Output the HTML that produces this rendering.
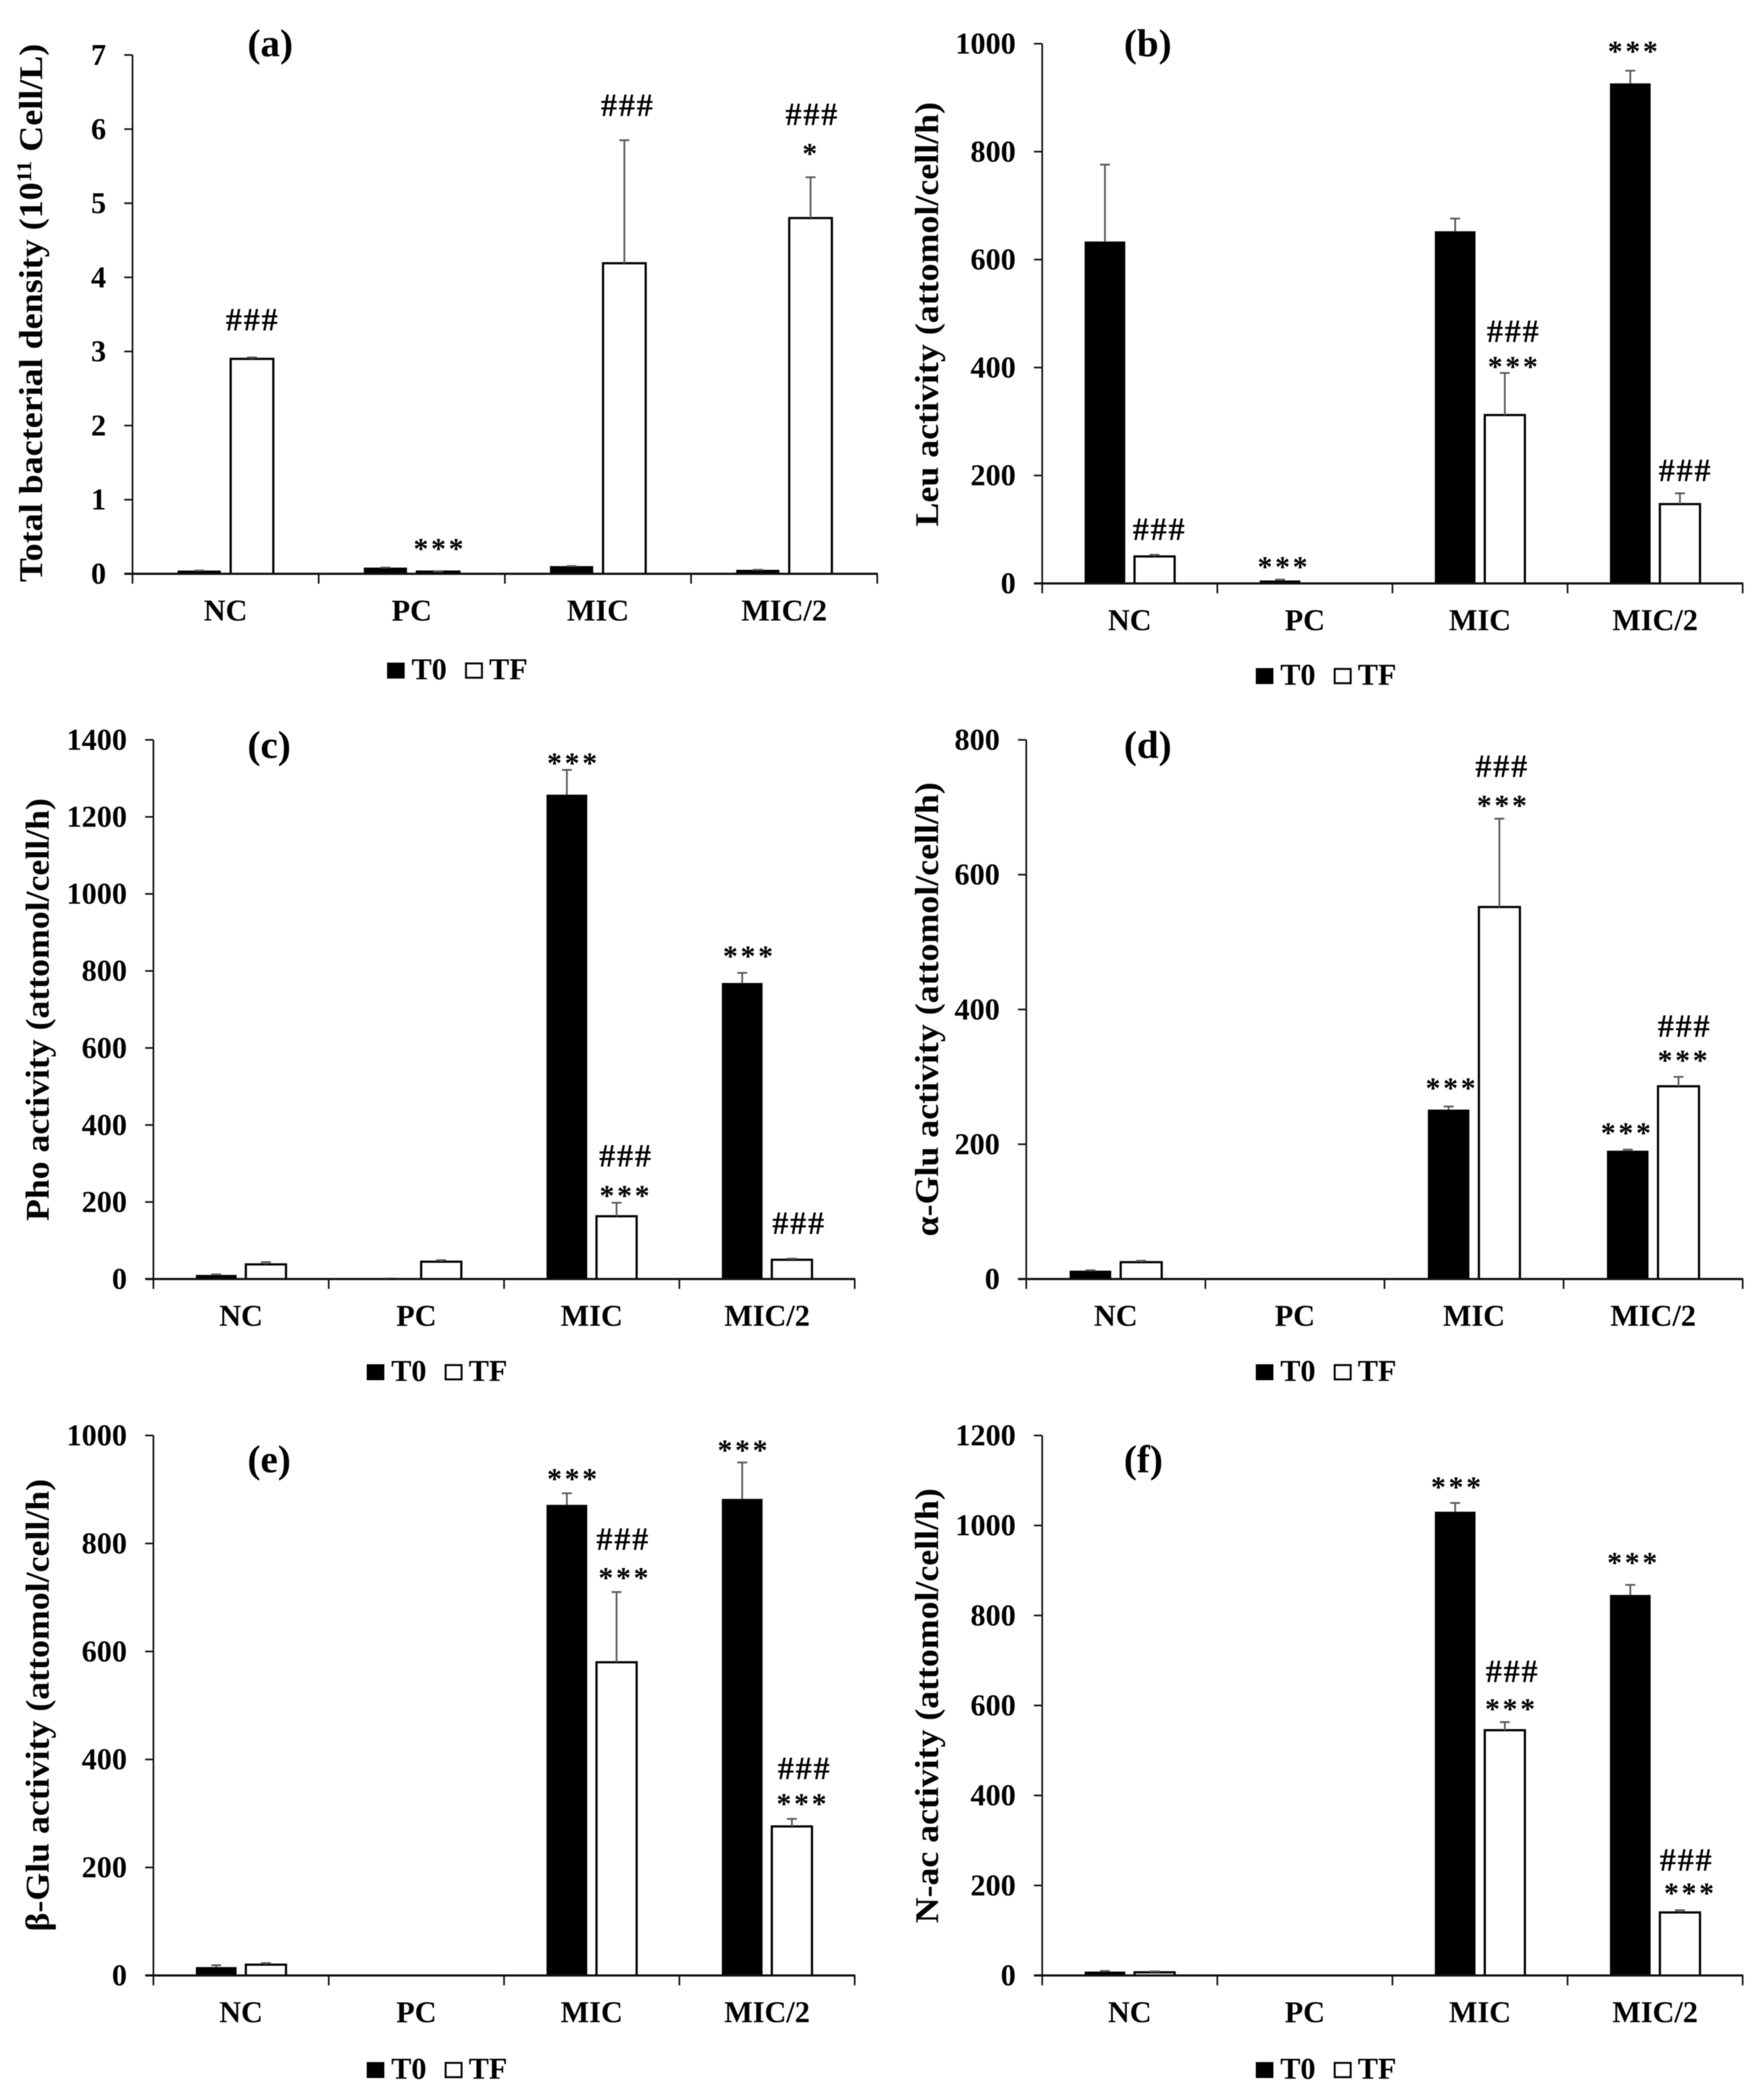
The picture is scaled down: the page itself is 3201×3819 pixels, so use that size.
<!DOCTYPE html>
<html lang="en">
<head>
<meta charset="utf-8">
<title>Bacterial density and enzyme activity panels</title>
<style>
  html, body { margin: 0; padding: 0; background: #fff; }
  #figure { display: block; width: 3201px; height: 3819px; background: #fff; filter: blur(0.8px); }
  text { font-family: "Liberation Serif", serif; fill: #000; }
</style>
</head>
<body>
<svg id="figure" xmlns="http://www.w3.org/2000/svg" width="3201" height="3819" viewBox="0 0 3201 3819"></svg>
<script>
const categories = ['NC', 'PC', 'MIC', 'MIC/2'];
const legendLabels = ['T0', 'TF'];

const panelATicks = [0, 1, 2, 3, 4, 5, 6, 7];
const panelAT0 = [0.04, 0.08, 0.10, 0.05];
const panelATF = [2.90, 0.03, 4.19, 4.80];
const panelAT0Err = [0.005, 0.005, 0.005, 0.005];
const panelATFErr = [0.02, 0.005, 1.66, 0.55];

const panelBTicks = [0, 200, 400, 600, 800, 1000];
const panelBT0 = [633, 5, 652, 926];
const panelBTF = [50, 0, 312, 147];
const panelBT0Err = [143, 2, 24, 24];
const panelBTFErr = [3, 0, 78, 20];

const panelCTicks = [0, 200, 400, 600, 800, 1000, 1200, 1400];
const panelCT0 = [10, 1, 1257, 768];
const panelCTF = [38, 45, 163, 50];
const panelCT0Err = [2, 0, 65, 27];
const panelCTFErr = [6, 4, 35, 3];

const panelDTicks = [0, 200, 400, 600, 800];
const panelDT0 = [12, 0, 251, 190];
const panelDTF = [25, 0, 552, 286];
const panelDT0Err = [1, 0, 5, 2];
const panelDTFErr = [2, 0, 131, 14];

const panelETicks = [0, 200, 400, 600, 800, 1000];
const panelET0 = [15, 0, 871, 882];
const panelETF = [20, 0, 580, 276];
const panelET0Err = [4, 0, 22, 68];
const panelETFErr = [3, 0, 130, 14];

const panelFTicks = [0, 200, 400, 600, 800, 1000, 1200];
const panelFT0 = [8, 0, 1030, 845];
const panelFTF = [7, 0, 545, 140];
const panelFT0Err = [2, 0, 20, 23];
const panelFTFErr = [2, 0, 18, 5];

const SVGNS = 'http://www.w3.org/2000/svg';
const root = document.getElementById('figure');

function make(parent, tag) {
  const el = document.createElementNS(SVGNS, tag);
  parent.appendChild(el);
  return el;
}
function setAll(el, props) {
  for (const k in props) el.setAttribute(k, props[k]);
  return el;
}
function label(parent, str, x, y, size, anchor, weight) {
  const t = make(parent, 'text');
  setAll(t, { x: x, y: y, 'font-size': size, 'text-anchor': anchor, 'font-weight': weight });
  t.textContent = str;
  return t;
}

function drawPanel(cfg) {
  const g = make(root, 'g');
  g.setAttribute('transform', 'translate(-1.5 -1.5)');
  
  

  const maxV = cfg.ticks[cfg.ticks.length - 1];
  const yScale = function (v) { return cfg.y0 - (v / maxV) * (cfg.y0 - cfg.yTop); };
  const catW = (cfg.xRight - cfg.xLeft) / categories.length;
  const barW = catW * 0.229;
  const barGap = catW * 0.0545;
  const xScale = function (cat, series) {
    const centre = cfg.xLeft + catW * (cat + 0.5);
    return series === 0 ? centre - barGap / 2 - barW : centre + barGap / 2;
  };
  const seriesValues = [cfg.t0, cfg.tf];
  const seriesErrors = [cfg.t0Err, cfg.tfErr];

  categories.forEach(function (cat, c) {
    [0, 1].forEach(function (s) {
      const v = seriesValues[s][c];
      const e = seriesErrors[s][c];
      const x = xScale(c, s);
      const top = yScale(v);
      const bar = make(g, 'rect');
      setAll(bar, { x: x, y: top, width: barW, height: Math.max(0, cfg.y0 - top),
        fill: s === 0 ? '#000' : '#fff', stroke: '#000', 'stroke-width': s === 0 ? 1 : 4 });
      
      
      if (v > 0 || e > 0) {
        const mid = x + barW / 2;
        const errTop = yScale(v + e);
        const err = make(g, 'path');
        setAll(err, { d: 'M' + mid + ' ' + top + 'V' + errTop + 'M' + (mid - 9) + ' ' + errTop + 'H' + (mid + 9),
          fill: 'none', stroke: '#5a5a5a', 'stroke-width': 3.2 });
        
        
      }
    });
  });

  const yAxis = make(g, 'line');
  setAll(yAxis, { x1: cfg.xLeft, x2: cfg.xLeft, y1: cfg.yTop, y2: cfg.y0 + 18, stroke: '#111', 'stroke-width': 3 });
  
  
  const xAxis = make(g, 'line');
  setAll(xAxis, { x1: cfg.xLeft - 15, x2: cfg.xRight + 1, y1: cfg.y0, y2: cfg.y0, stroke: '#111', 'stroke-width': 4 });
  
  

  cfg.ticks.forEach(function (t) {
    const y = yScale(t);
    const mark = make(g, 'line');
    setAll(mark, { x1: cfg.xLeft - 15, x2: cfg.xLeft, y1: y, y2: y, stroke: '#111', 'stroke-width': 3 });
    
    
    const tl = label(g, String(t), cfg.xLeft - 48, y + 18, 55, 'end', 'bold');
    
    
  });

  for (let i = 0; i <= categories.length; i++) {
    const x = cfg.xLeft + catW * i;
    const mark = make(g, 'line');
    setAll(mark, { x1: x, x2: x, y1: cfg.y0, y2: cfg.y0 + 18, stroke: '#111', 'stroke-width': 3 });
    
    
  }
  categories.forEach(function (cat, c) {
    const cl = label(g, cat, cfg.xLeft + catW * (c + 0.5), cfg.y0 + 85, 55, 'middle', 'bold');
    
    
  });

  const title = make(g, 'text');
  setAll(title, { transform: 'translate(' + (cfg.titleX - 2) + ' ' + cfg.titleBottom + ') rotate(-90)',
    'font-size': 60, 'font-weight': 'bold', 'text-anchor': 'start',
    textLength: cfg.titleLength, lengthAdjust: 'spacingAndGlyphs' });
  
  
  if (cfg.titleSup) {
    const a = make(title, 'tspan');
    a.textContent = cfg.titleText;
    const b = make(title, 'tspan');
    setAll(b, { dy: -20, 'font-size': 38 });
    b.textContent = cfg.titleSup;
    const d = make(title, 'tspan');
    setAll(d, { dy: 20 });
    d.textContent = cfg.titleAfter;
  } else {
    title.textContent = cfg.titleText;
  }

  const pl = label(g, cfg.letter, cfg.letterX, cfg.letterY, 71, 'middle', 'bold');
  
  

  const lg = make(g, 'g');
  
  
  const swatchA = make(lg, 'rect');
  setAll(swatchA, { x: cfg.legendX, y: cfg.legendY - 30, width: 31, height: 28, fill: '#000', stroke: '#000', 'stroke-width': 1 });
  
  
  const textA = label(lg, legendLabels[0], cfg.legendX + 44, cfg.legendY, 55, 'start', 'bold');
  
  
  const swatchB = make(lg, 'rect');
  setAll(swatchB, { x: cfg.legendX + 143, y: cfg.legendY - 29, width: 29, height: 26, fill: '#fff', stroke: '#000', 'stroke-width': 3.5 });
  
  
  const textB = label(lg, legendLabels[1], cfg.legendX + 185, cfg.legendY, 55, 'start', 'bold');
  
  

  return function note(cat, series, text, dx, gap) {
    const v = seriesValues[series][cat] + seriesErrors[series][cat];
    const cx = xScale(cat, series) + barW / 2 + dx;
    const centre = yScale(v) - gap;
    const isStar = text.charAt(0) === '*';
    const n = label(g, text, cx + (isStar ? 1 : 1), centre + (isStar ? 25 : 20), isStar ? 54 : 59, 'middle', 'bold');
    n.setAttribute('letter-spacing', isStar ? 5 : 3);
    
    
  };
}

const noteA = drawPanel({ id: 'a', letter: '(a)', ticks: panelATicks, t0: panelAT0, tf: panelATF, t0Err: panelAT0Err, tfErr: panelATFErr,
  xLeft: 242.5, xRight: 1597, yTop: 101.5, y0: 1045,
  titleText: 'Total bacterial density (10', titleSup: '11', titleAfter: ' Cell/L)', titleX: 80, titleBottom: 1060, titleLength: 979,
  letterX: 493, letterY: 104, legendX: 706, legendY: 1237 });
noteA(0, 1, '###', 0, 69);
noteA(1, 1, '***', 2, 48);
noteA(2, 1, '###', 5, 64);
noteA(3, 1, '*', 0, 50);
noteA(3, 1, '###', 2, 115);

const noteB = drawPanel({ id: 'b', letter: '(b)', ticks: panelBTicks, t0: panelBT0, tf: panelBTF, t0Err: panelBT0Err, tfErr: panelBTFErr,
  xLeft: 1897, xRight: 3171, yTop: 81, y0: 1062.5,
  titleText: 'Leu activity (attomol/cell/h)', titleX: 1709.5, titleBottom: 959, titleLength: 772,
  letterX: 2089, letterY: 104, legendX: 2286, legendY: 1247 });
noteB(0, 1, '###', 8, 47);
noteB(1, 0, '***', 6, 30);
noteB(2, 1, '***', 16, 18);
noteB(2, 1, '###', 15, 76);
noteB(3, 0, '***', 6, 42);
noteB(3, 1, '###', 9, 42);

const noteC = drawPanel({ id: 'c', letter: '(c)', ticks: panelCTicks, t0: panelCT0, tf: panelCTF, t0Err: panelCT0Err, tfErr: panelCTFErr,
  xLeft: 280.5, xRight: 1556, yTop: 1347, y0: 2327.5,
  titleText: 'Pho activity (attomol/cell/h)', titleX: 92, titleBottom: 2222, titleLength: 769,
  letterX: 491, letterY: 1380, legendX: 669, legendY: 2513 });
noteC(2, 0, '***', 11, 19);
noteC(2, 1, '***', 16, 20);
noteC(2, 1, '###', 16, 86);
noteC(3, 0, '***', 12, 37);
noteC(3, 1, '###', 12, 65);

const noteD = drawPanel({ id: 'd', letter: '(d)', ticks: panelDTicks, t0: panelDT0, tf: panelDTF, t0Err: panelDT0Err, tfErr: panelDTFErr,
  xLeft: 1868, xRight: 3171, yTop: 1347, y0: 2327.5,
  titleText: '\u03B1-Glu activity (attomol/cell/h)', titleX: 1709.5, titleBottom: 2250, titleLength: 826,
  letterX: 2089, letterY: 1380, legendX: 2286, legendY: 2513 });
noteD(2, 0, '***', 5, 40);
noteD(2, 1, '***', 6, 31);
noteD(2, 1, '###', 4, 96);
noteD(3, 0, '***', -2, 37);
noteD(3, 1, '***', 9, 37);
noteD(3, 1, '###', 10, 93);

const noteE = drawPanel({ id: 'e', letter: '(e)', ticks: panelETicks, t0: panelET0, tf: panelETF, t0Err: panelET0Err, tfErr: panelETFErr,
  xLeft: 280.5, xRight: 1556, yTop: 2612, y0: 3594,
  titleText: '\u03B2-Glu activity (attomol/cell/h)', titleX: 92, titleBottom: 3514, titleLength: 823,
  letterX: 491, letterY: 2679, legendX: 669, legendY: 3782 });
noteE(2, 0, '***', 11, 33);
noteE(2, 1, '***', 14, 33);
noteE(2, 1, '###', 11, 97);
noteE(3, 0, '***', 2, 29);
noteE(3, 1, '***', 19, 34);
noteE(3, 1, '###', 22, 92);

const noteF = drawPanel({ id: 'f', letter: '(f)', ticks: panelFTicks, t0: panelFT0, tf: panelFTF, t0Err: panelFT0Err, tfErr: panelFTFErr,
  xLeft: 1897, xRight: 3171, yTop: 2612, y0: 3594,
  titleText: 'N-ac activity (attomol/cell/h)', titleX: 1709.5, titleBottom: 3499, titleLength: 791,
  letterX: 2081, letterY: 2679, legendX: 2286, legendY: 3782 });
noteF(2, 0, '***', 3, 36);
noteF(2, 1, '***', 11, 31);
noteF(2, 1, '###', 13, 93);
noteF(3, 0, '***', 5, 47);
noteF(3, 1, '***', 18, 38);
noteF(3, 1, '###', 11, 92);
</script>
</body>
</html>
